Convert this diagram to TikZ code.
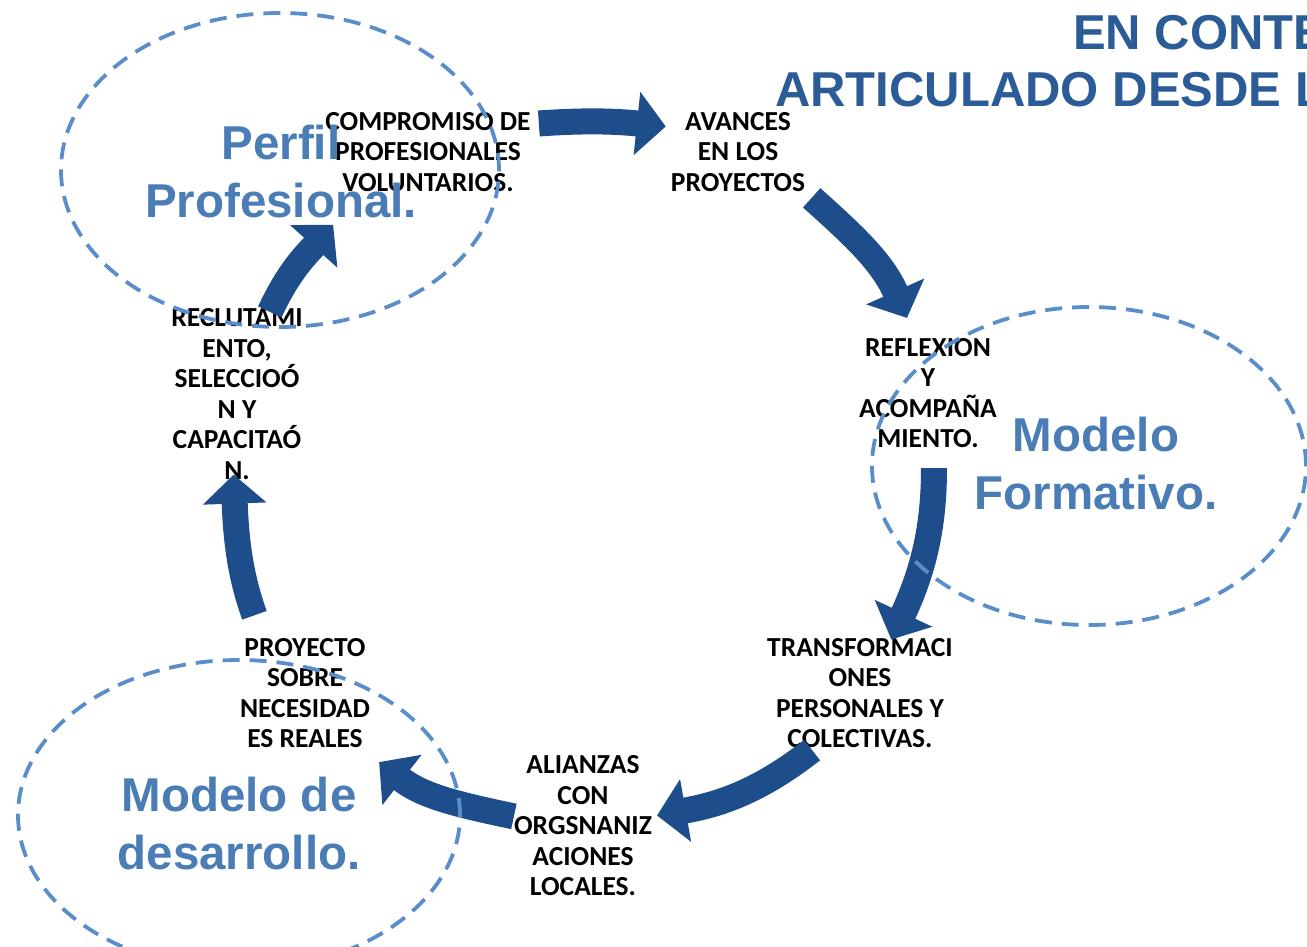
\documentclass[tikz,border=0pt]{standalone}
\usepackage{fontspec}
\setmainfont{Carlito}
\newfontfamily\arialfont{Liberation Sans}
\usepackage{xcolor}
\usetikzlibrary{arrows.meta}
\definecolor{arrowblue}{HTML}{1E4D8C}
\definecolor{titleblue}{HTML}{2B5C97}
\definecolor{modelblue}{HTML}{4A7CB5}
\definecolor{dashblue}{HTML}{5A8ECB}
\tikzset{
  paso/.style={font=\bfseries\fontsize{27.5}{30.5}\selectfont, align=center, inner sep=2pt},
  flecha/.style={line width=26pt, draw=arrowblue, -{Triangle[width=62pt,length=29pt]}},
  zona/.style={draw=dashblue, line width=3.8pt, dash pattern=on 17pt off 10pt},
  modelo/.style={font=\arialfont\bfseries\fontsize{47.5}{58}\selectfont, align=center, text=modelblue, inner sep=0pt},
  titulo/.style={font=\arialfont\bfseries\fontsize{49}{57}\selectfont, text=titleblue, inner sep=0pt, anchor=base west}
}
\begin{document}
\begin{tikzpicture}[x=1pt,y=1pt]
\useasboundingbox (0,0) rectangle (1307,-947);
% pasos del ciclo
\node [paso] (compromiso) at (428,-152) {COMPROMISO DE\\PROFESIONALES\\VOLUNTARIOS.};
\node [paso] (avances) at (738,-152) {AVANCES\\EN LOS\\PROYECTOS};
\node [paso] (reflexion) at (928,-393) {REFLEXION\\Y\\ACOMPAÑA\\MIENTO.};
\node [paso] (transformaciones) at (860,-693) {TRANSFORMACI\\ONES\\PERSONALES Y\\COLECTIVAS.};
\node [paso] (alianzas) at (583,-826) {ALIANZAS\\CON\\ORGSNANIZ\\ACIONES\\LOCALES.};
\node [paso] (proyecto) at (305,-693) {PROYECTO\\SOBRE\\NECESIDAD\\ES REALES};
\node [paso] (reclutamiento) at (237,-394) {RECLUTAMI\\ENTO,\\SELECCIOÓ\\N Y\\CAPACITAÓ\\N.};

% flechas
\draw [flecha, shorten <=6pt, shorten >=3pt] (compromiso.15) to [out=4,in=174] (avances.160);
\draw [flecha, shorten <=6pt] (avances.south east) to [out=-42,in=114] ([xshift=-21pt,yshift=18pt]reflexion.north);
\draw [flecha, shorten <=18pt, shorten >=-4pt] (reflexion.-84) to [out=-90,in=65] (transformaciones.60);
\draw [flecha, shorten >=3pt] (transformaciones.-130) to [out=218,in=10] (alianzas.8);
\draw [flecha, shorten <=-2pt] (alianzas.172) to [out=168,in=-38] ([xshift=7pt,yshift=-12pt]proyecto.south east);
\draw [flecha, shorten <=22pt, shorten >=-7pt] (proyecto.127) to [out=110,in=-88] (reclutamiento.-92);
\draw [flecha, shorten <=-6pt] (reclutamiento.68) to [out=65,in=-132] ([xshift=10pt,yshift=-31pt]compromiso.south west);

% zonas
\draw [zona] (280,-170) ellipse [x radius=219, y radius=157];
\draw [zona] (1089,-466) ellipse [x radius=217, y radius=159];
\draw [zona] (239,-815) ellipse [x radius=221, y radius=155];

\node [modelo] (perfil) at (281,-172) {Perfil\\Profesional.};
\node [modelo] (formativo) at (1096,-464) {Modelo\\Formativo.};
\node [modelo] (desarrollo) at (239,-824) {Modelo de\\desarrollo.};

% titulo
\node [titulo] (titulo1) at (1073,-50) {EN CONTE};
\node [titulo] (titulo2) at (775,-107) {ARTICULADO DESDE L};
\end{tikzpicture}
\end{document}
